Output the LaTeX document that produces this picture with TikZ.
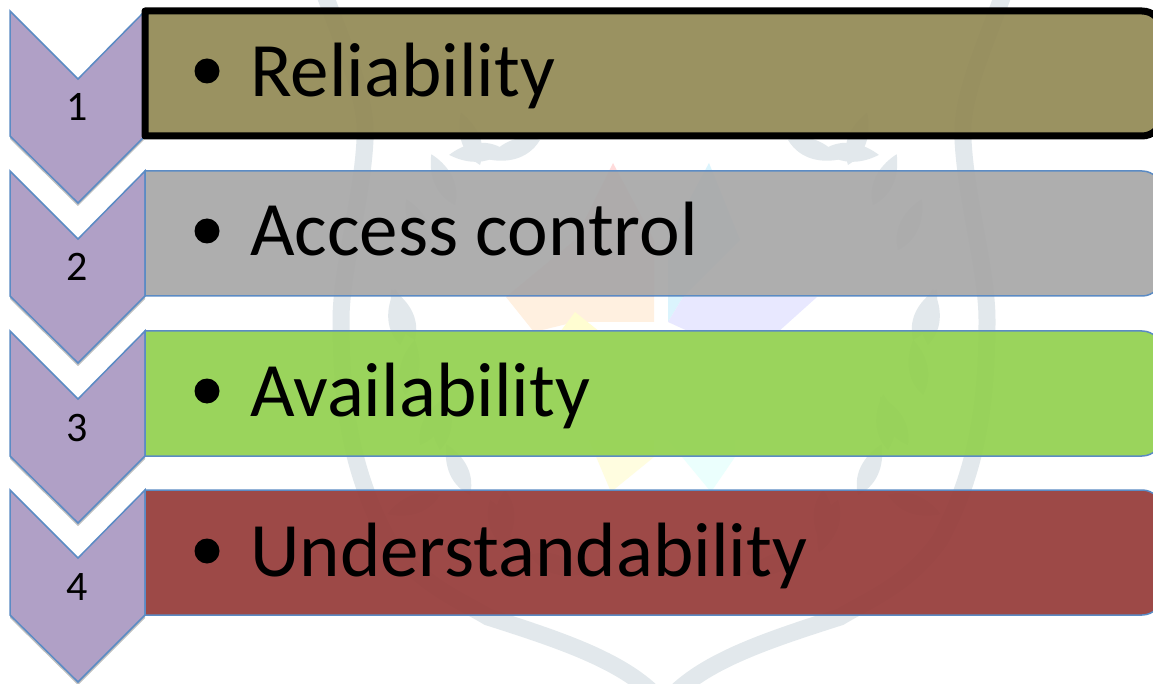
\documentclass[tikz,border=0pt]{standalone}
\usepackage{fontspec}
\setmainfont{Carlito}
\usetikzlibrary{shadows}
\definecolor{chev}{HTML}{B0A0C6}
\definecolor{edge}{HTML}{5B8BC4}
\definecolor{wmark}{HTML}{E2E8EC}
\tikzset{
  x=1pt,y=-1pt,
  chevshape/.style={fill=chev,draw=edge,line width=1.5pt,line join=miter,
    drop shadow={shadow xshift=0pt,shadow yshift=-3pt,opacity=.25,fill=black}},
  barshape/.style={draw=edge,line width=1.5pt,fill opacity=.93},
  numlabel/.style={font=\fontsize{42}{42}\selectfont,text=black,anchor=base,inner sep=0pt},
  barlabel/.style={font=\fontsize{77}{77}\selectfont,text=black,anchor=base west,inner sep=0pt},
  bullet/.style={circle,fill=black,inner sep=0pt,minimum size=25pt},
  wmband/.style={draw=wmark,line width=17pt,line cap=butt},
  wmleaf/.style={fill=wmark}
}
\newcommand{\chevron}[2]{%
  \path[chevshape] (10,#1) -- (78,{#1+68}) -- (145,{#1}) -- (145,{#1+125}) -- (78,{#1+192}) -- (10,{#1+125}) -- cycle;
  \node[numlabel] (n#2) at (77,{#1+110}) {#2};}
\newcommand{\barpath}[1]{(145,#1) -- (1142,#1) arc[start angle=-90,end angle=0,radius=20] -- (1162,{#1+105}) arc[start angle=0,end angle=90,radius=20] -- (145,{#1+125}) -- cycle}
% leaf at (x,y), pointing along an angle, of a given length
\newcommand{\wleaf}[4]{%
  \fill[wmleaf,shift={(#1,#2)},rotate=#3] (0,0) .. controls (#4*.35,-#4*.28) and (#4*.75,-#4*.16) .. (#4,0) .. controls (#4*.75,#4*.16) and (#4*.35,#4*.28) .. (0,0) -- cycle;}
\begin{document}
\begin{tikzpicture}
\useasboundingbox (0,0) rectangle (1153,684);
\fill[white] (0,0) rectangle (1153,684);
% faint watermark: shield, both halves
\draw[wmband] (325,-5) .. controls (345,50) and (368,100) .. (365,140) .. controls (362,200) and (341,270) .. (341,320) .. controls (341,400) and (350,470) .. (388,540) .. controls (420,585) and (460,600) .. (488,617) .. controls (560,640) and (620,660) .. (655,695);
\draw[wmband] (1003,-5) .. controls (983,50) and (960,100) .. (963,140) .. controls (966,200) and (987,270) .. (987,320) .. controls (987,400) and (978,470) .. (940,540) .. controls (908,585) and (868,600) .. (840,617) .. controls (768,640) and (708,660) .. (673,695);
% wreath leaves
\foreach \lx/\ly/\la in {
  540/140/200, 505/150/185, 480/165/110, 455/205/115, 430/250/115,
  415/340/115, 400/345/95, 405/395/80, 420/445/60,
  440/450/85, 470/495/115, 440/495/200, 490/500/290, 505/490/270, 530/555/340}
{ \wleaf{\lx}{\ly}{\la}{56} \wleaf{\the\numexpr1328-\lx\relax}{\ly}{\the\numexpr180-\la\relax}{56} }
% coloured centre of the watermark
\fill[red!14!white]  (613,163) -- (575,240) -- (506,297) -- (654,297) -- (654,240) -- cycle;
\fill[cyan!14!white] (709,163) -- (668,240) -- (668,322) -- (683,297) -- (740,240) -- cycle;
\fill[orange!12!white] (506,297) -- (654,297) -- (654,322) -- (575,322) -- (534,332) -- cycle;
\fill[yellow!18!white] (560,332) -- (575,312) -- (600,332) -- cycle;
\fill[blue!9!white] (683,297) -- (817,297) -- (778,332) -- (690,332) -- (668,322) -- cycle;
\fill[yellow!12!white] (589,440) -- (654,440) -- (654,457) -- (611,492) -- cycle;
\fill[green!8!cyan!8!white] (668,440) -- (735,440) -- (735,457) -- (711,492) -- cycle;
% chevrons, lowest first
\chevron{490}{4}
\chevron{331}{3}
\chevron{171}{2}
\chevron{11}{1}
% bars
\path[barshape,fill={rgb,255:red,168;green,168;blue,168}] \barpath{171};
\path[barshape,fill={rgb,255:red,147;green,209;blue,80}] \barpath{331};
\path[barshape,fill={rgb,255:red,150;green,60;blue,58}] \barpath{490};
\path[barshape,fill={rgb,255:red,147;green,138;blue,86},draw=black,line width=7pt,line join=round] \barpath{11};
% labels
\node[bullet] (b1) at (207,71) {};
\node[barlabel] (t1) at (250,97) {Reliability};
\node[bullet] (b2) at (207,231) {};
\node[barlabel] (t2) at (250,256) {Access control};
\node[bullet] (b3) at (207,391) {};
\node[barlabel] (t3) at (250,416) {Availability};
\node[bullet] (b4) at (207,551) {};
\node[barlabel] (t4) at (250,576) {Understandability};
\end{tikzpicture}
\end{document}
